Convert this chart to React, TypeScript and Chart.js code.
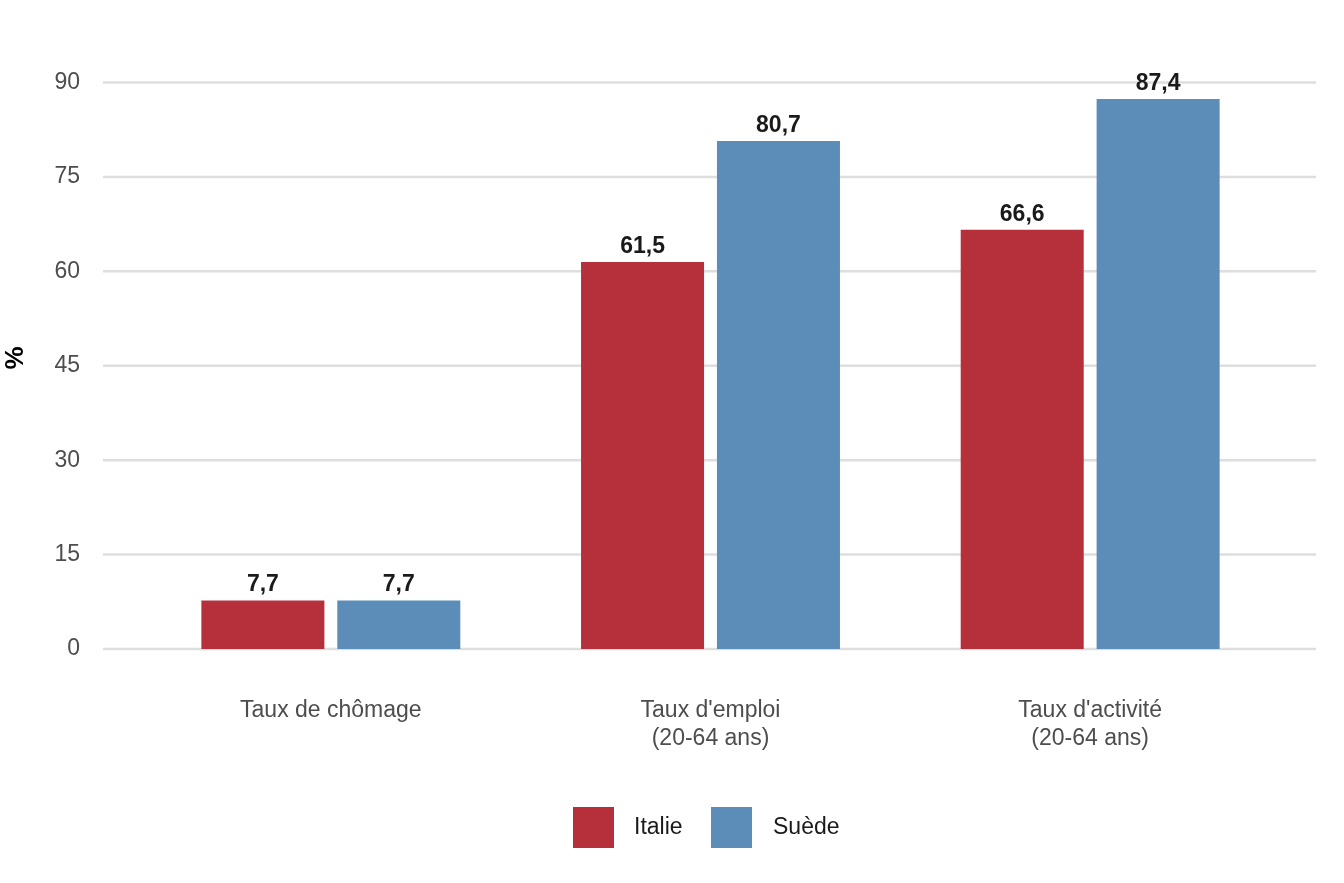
import React, { useEffect, useRef } from "react";
import { Chart, registerables } from "chart.js";
Chart.register(...registerables);

const categories = [["Taux de chômage"], ["Taux d'emploi", "(20-64 ans)"], ["Taux d'activité", "(20-64 ans)"]];
const italie = [7.7, 61.5, 66.6];
const suede = [7.7, 80.7, 87.4];
const yTicks = [0, 15, 30, 45, 60, 75, 90];
const RED = "#b5303b";
const BLUE = "#5b8db8";
const fmt = (v: number) => v.toFixed(1).replace(".", ",");

export default function App() {
  const ref = useRef<HTMLCanvasElement>(null);
  useEffect(() => {
    document.body.style.margin = "0";
    const font = "Liberation Sans, Arial, sans-serif";
    const plugin = {
      id: "custom",
      beforeDatasetsDraw(c: any) {
        const { ctx, chartArea, scales } = c;
        ctx.save();
        ctx.strokeStyle = "#dedede";
        ctx.lineWidth = 2.5;
        yTicks.forEach((t) => {
          const y = scales.y.getPixelForValue(t);
          ctx.beginPath();
          ctx.moveTo(chartArea.left - 38, y);
          ctx.lineTo(chartArea.right + 36, y);
          ctx.stroke();
        });
        ctx.restore();
      },
      afterDatasetsDraw(c: any) {
        const { ctx } = c;
        ctx.save();
        ctx.font = `bold 23px ${font}`;
        ctx.fillStyle = "#1a1a1a";
        ctx.textAlign = "center";
        ctx.textBaseline = "bottom";
        c.data.datasets.forEach((ds: any, i: number) => {
          c.getDatasetMeta(i).data.forEach((b: any, j: number) => {
            ctx.fillText(fmt(ds.data[j]), b.x, b.y - 4);
          });
        });
        // legend
        ctx.font = `23px ${font}`;
        ctx.textAlign = "left";
        ctx.textBaseline = "middle";
        ctx.fillStyle = RED;
        ctx.fillRect(573, 807, 41, 41);
        ctx.fillStyle = "#1a1a1a";
        ctx.fillText("Italie", 634, 828);
        ctx.fillStyle = BLUE;
        ctx.fillRect(711, 807, 41, 41);
        ctx.fillStyle = "#1a1a1a";
        ctx.fillText("Suède", 773, 828);
        ctx.restore();
      },
    };
    const chart = new Chart(ref.current!, {
      type: "bar",
      data: {
        labels: categories as any,
        datasets: [
          { label: "Italie", data: italie, backgroundColor: RED },
          { label: "Suède", data: suede, backgroundColor: BLUE },
        ],
      },
      options: {
        animation: false,
        responsive: false,
        layout: { padding: { top: 61, right: 64, bottom: 0, left: 0 } },
        datasets: { bar: { categoryPercentage: 0.716, barPercentage: 0.905 } },
        plugins: { legend: { display: false }, tooltip: { enabled: false } },
        scales: {
          x: {
            grid: { display: false },
            border: { display: false },
            ticks: { color: "#4d4d4d", font: { family: font, size: 23 }, padding: 40 },
            afterFit: (s: any) => { s.height = 234; },
          },
          y: {
            min: 0,
            max: 92.5,
            afterBuildTicks: (s: any) => { s.ticks = yTicks.map((v) => ({ value: v })); },
            grid: { display: false },
            border: { display: false },
            ticks: { color: "#4d4d4d", font: { family: font, size: 23 }, padding: 53 },
            title: { display: true, text: "%", color: "#000", font: { family: font, size: 26, weight: "bold" }, padding: 0 },
            afterFit: (s: any) => { s.width = 141; },
          },
        },
      },
      plugins: [plugin],
    } as any);
    return () => chart.destroy();
  }, []);
  return <canvas ref={ref} width={1344} height={883} style={{ display: "block" }} />;
}
